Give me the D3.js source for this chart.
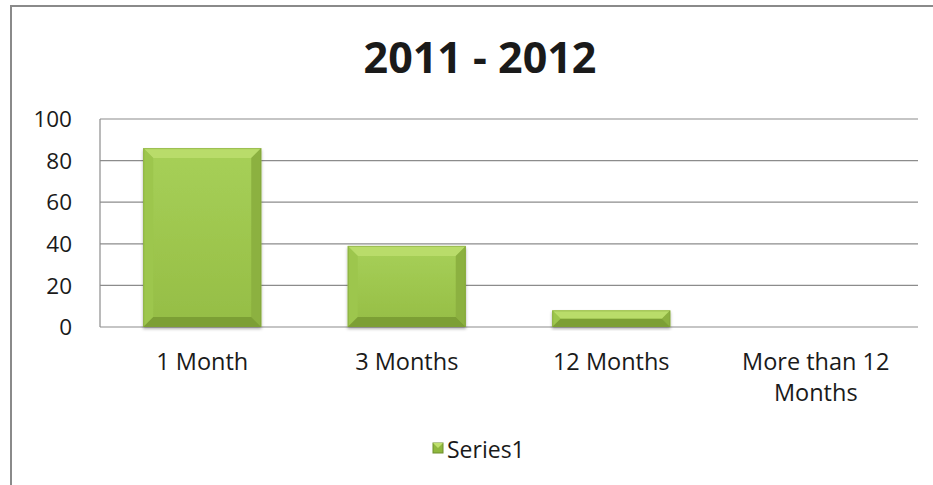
<!DOCTYPE html>
<html>
<head>
<meta charset="utf-8">
<script src="https://cdn.jsdelivr.net/npm/d3@7"></script>
<style>
  html, body { margin: 0; padding: 0; background: #fff; }
  svg { display: block; }
  text { font-family: "Open Sans", "Noto Sans", sans-serif; fill: #1a1a1a; }
</style>
</head>
<body>
<svg id="chart" width="933" height="485"></svg>
<script>
const title = "2011 - 2012";
const categories = ["1 Month", "3 Months", "12 Months", "More than 12 Months"];
const categoryLines = [["1 Month"], ["3 Months"], ["12 Months"], ["More than 12", "Months"]];
const seriesName = "Series1";
const values = [86, 39, 8, 0];
const yTicks = [0, 20, 40, 60, 80, 100];

const svg = d3.select("#chart");

// outer chart border (extends past right and bottom edges)
svg.append("rect")
  .attr("x", 11).attr("y", 6)
  .attr("width", 950).attr("height", 500)
  .attr("fill", "#fff")
  .attr("stroke", "#8a8a8a").attr("stroke-width", 2);

const plot = { left: 100, right: 918, top: 119, bottom: 327 };

const x = d3.scaleBand()
  .domain(categories)
  .range([plot.left, plot.right])
  .paddingInner(0.423)
  .paddingOuter(0.2115);

const y = d3.scaleLinear().domain([0, 100]).range([plot.bottom, plot.top]);

const defs = svg.append("defs");
const g1 = defs.append("linearGradient").attr("id", "face")
  .attr("x1", 0).attr("y1", 0).attr("x2", 0).attr("y2", 1);
g1.append("stop").attr("offset", "0%").attr("stop-color", "#a7d058");
g1.append("stop").attr("offset", "100%").attr("stop-color", "#95bd45");

const shadow = defs.append("filter").attr("id", "shadow")
  .attr("x", "-10%").attr("y", "-10%").attr("width", "120%").attr("height", "130%");
shadow.append("feDropShadow").attr("dx", 0).attr("dy", 2)
  .attr("stdDeviation", 1.5).attr("flood-color", "#000").attr("flood-opacity", 0.3);

// gridlines
svg.append("g")
  .selectAll("line")
  .data(yTicks)
  .join("line")
  .attr("x1", plot.left).attr("x2", plot.right)
  .attr("y1", d => y(d)).attr("y2", d => y(d))
  .attr("stroke", "#8c8c8c").attr("stroke-width", 1.2);

// value axis line
svg.append("line")
  .attr("x1", plot.left).attr("x2", plot.left)
  .attr("y1", y(100)).attr("y2", y(0))
  .attr("stroke", "#8c8c8c").attr("stroke-width", 1.2);

// y tick labels
const yAxis = svg.append("g")
  .attr("transform", `translate(${plot.left - 25},0)`)
  .call(d3.axisLeft(y).tickValues(yTicks).tickSize(0).tickPadding(3));
yAxis.select(".domain").remove();
yAxis.selectAll("text")
  .attr("font-size", 22.5)
  .attr("font-family", "Open Sans")
  .attr("fill", "#1a1a1a")
  .attr("dy", "0.34em");

// bars with soft bevel
const bars = svg.append("g");
values.forEach((v, i) => {
  if (v <= 0) return;
  const x0 = x(categories[i]);
  const w = x.bandwidth();
  const y0 = y(v);
  const y1 = y(0);
  const h = y1 - y0;
  const b = Math.min(10, h / 2, w / 2);
  const g = bars.append("g").attr("filter", "url(#shadow)");
  g.append("rect").attr("x", x0).attr("y", y0).attr("width", w).attr("height", h)
    .attr("fill", "url(#face)");
  g.append("polygon")
    .attr("points", [[x0, y0], [x0 + w, y0], [x0 + w - b, y0 + b], [x0 + b, y0 + b]].join(" "))
    .attr("fill", "#b9dc6a");
  g.append("polygon")
    .attr("points", [[x0, y0], [x0 + b, y0 + b], [x0 + b, y1 - b], [x0, y1]].join(" "))
    .attr("fill", "#9dc64e");
  g.append("polygon")
    .attr("points", [[x0 + w, y0], [x0 + w - b, y0 + b], [x0 + w - b, y1 - b], [x0 + w, y1]].join(" "))
    .attr("fill", "#8cb140");
  g.append("polygon")
    .attr("points", [[x0, y1], [x0 + b, y1 - b], [x0 + w - b, y1 - b], [x0 + w, y1]].join(" "))
    .attr("fill", "#7c9f35");
  g.append("rect").attr("x", x0 + 0.5).attr("y", y0 + 0.5).attr("width", w - 1).attr("height", h - 1)
    .attr("fill", "none").attr("stroke", "#7d9d35").attr("stroke-width", 1).attr("opacity", 0.5);
});

// category labels
const catG = svg.append("g");
categories.forEach((c, i) => {
  const cx = x(c) + x.bandwidth() / 2;
  const t = catG.append("text")
    .attr("x", cx).attr("y", 370)
    .attr("text-anchor", "middle")
    .attr("font-size", 23.5);
  categoryLines[i].forEach((line, j) => {
    t.append("tspan").attr("x", cx).attr("dy", j === 0 ? 0 : 31).text(line);
  });
});

// title
svg.append("text")
  .attr("x", 480).attr("y", 73)
  .attr("text-anchor", "middle")
  .attr("font-size", 43)
  .attr("font-weight", "bold")
  .attr("fill", "#000")
  .text(title);

// legend
const lg = svg.append("g");
lg.append("rect").attr("x", 433).attr("y", 443).attr("width", 10).attr("height", 10)
  .attr("fill", "#8fb83e").attr("stroke", "#6e8f2c").attr("stroke-width", 1);
lg.append("polygon").attr("points", "433,443 443,443 438,448").attr("fill", "#bfe06e");
lg.append("text").attr("x", 447).attr("y", 458)
  .attr("font-size", 23)
  .text(seriesName);
</script>
</body>
</html>
